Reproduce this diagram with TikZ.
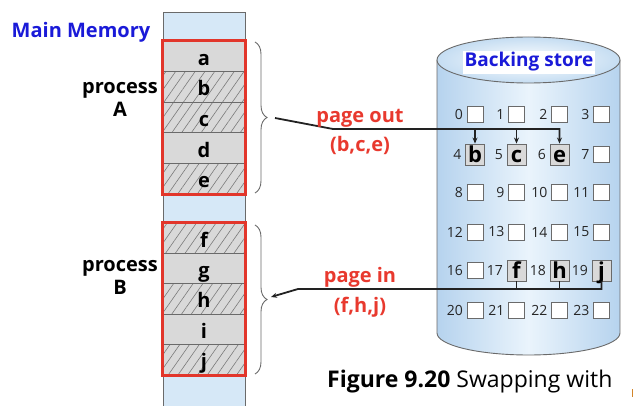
\documentclass[tikz,border=0pt]{standalone}
\usepackage{fontspec}
\setmainfont{Open Sans}
\usetikzlibrary{patterns.meta,decorations.pathreplacing,arrows.meta,calc}
\definecolor{memblue}{HTML}{D6E8F7}
\definecolor{cellgray}{HTML}{D9D9D9}
\definecolor{hatchgray}{HTML}{7A7A7A}
\definecolor{sepgray}{HTML}{6A6A6A}
\definecolor{boxred}{HTML}{E2362B}
\definecolor{txtred}{HTML}{E8392E}
\definecolor{txtblue}{HTML}{1A1AD8}
\definecolor{cylblue}{HTML}{B6D3EE}
\definecolor{cyllight}{HTML}{EAF4FC}
\definecolor{cyltop}{HTML}{C5DDF2}
\definecolor{linedark}{HTML}{222222}
\definecolor{sliver}{HTML}{D2852A}
\expandafter\def\csname lt4\endcsname{b}
\expandafter\def\csname lt5\endcsname{c}
\expandafter\def\csname lt6\endcsname{e}
\expandafter\def\csname lt17\endcsname{f}
\expandafter\def\csname lt18\endcsname{h}
\expandafter\def\csname lt19\endcsname{j}
\begin{document}
\begin{tikzpicture}[x=1pt,y=-1pt,
  cell/.style={draw=sepgray,line width=0.7pt,fill=cellgray,minimum width=82pt,minimum height=30.6pt,inner sep=0pt,
    text height=18pt,text depth=0pt,font=\bfseries\fontsize{20}{24}\selectfont},
  hatched/.style={fill=none,preaction={fill=cellgray},pattern={Lines[angle=55,distance=8pt,line width=0.6pt]},pattern color=hatchgray},
  redframe/.style={draw=boxred,line width=2.6pt},
  bracestyle/.style={decorate,decoration={brace,amplitude=12pt},draw=sepgray,line width=0.9pt},
  conn/.style={draw=linedark,line width=1.8pt},
  tip/.style={-{Stealth[length=6pt,width=5pt]}},
  emptybox/.style={draw=sepgray,line width=0.8pt,fill=white,minimum size=16pt,inner sep=0pt},
  letterbox/.style={draw=sepgray,line width=0.9pt,fill=cellgray,minimum width=19pt,minimum height=21pt,inner sep=0pt,
    text height=17pt,text depth=0pt,font=\bfseries\fontsize{22}{24}\selectfont},
  num/.style={inner sep=0pt,text=black!85,font=\fontsize{14}{16}\selectfont},
  bluetitle/.style={text=txtblue,font=\bfseries\fontsize{20}{24}\selectfont,inner sep=0pt},
  proc/.style={align=center,font=\bfseries\fontsize{20}{23}\selectfont,inner sep=0pt},
  redlabel/.style={text=txtred,font=\bfseries\fontsize{20}{24}\selectfont,inner sep=0pt}
]
\useasboundingbox (0,0) rectangle (633,406);

% main memory column
\fill[memblue] (163,12) rectangle (245,406);
\draw[sepgray,line width=0.8pt] (163,406) -- (163,12) -- (245,12) -- (245,406);
\node[bluetitle,anchor=base] (mmtitle) at (81,38) {Main Memory};

% process A
\node[cell] (a) at (204,56.3) {a};
\node[cell,hatched] (b) at (204,86.9) {b};
\node[cell,hatched] (c) at (204,117.5) {c};
\node[cell] (d) at (204,148.1) {d};
\node[cell,hatched] (e) at (204,178.7) {e};
\draw[redframe] (a.north west) rectangle (e.south east);
% process B
\node[cell,hatched] (f) at (204,238.2) {f};
\node[cell] (g) at (204,268.6) {g};
\node[cell,hatched] (h) at (204,299) {h};
\node[cell] (i) at (204,329.4) {i};
\node[cell,hatched] (j) at (204,359.8) {j};
\draw[redframe] (f.north west) rectangle (j.south east);

\node[proc,anchor=base] (procA) at (120,117) {process\\A};
\node[proc,anchor=base] (procB) at (120,295) {process\\B};

% braces
\draw[bracestyle] (255,42) -- (255,193);
\coordinate (tipA) at (267,117.5);
\draw[bracestyle] (255,225) -- (255,374);
\coordinate (tipB) at (267,299.5);

% cylinder
\path[left color=cylblue,right color=cylblue,middle color=cyllight]
  (437,60) -- (437,333) arc[start angle=180,end angle=360,x radius=91.5pt,y radius=22pt] -- (620,60) -- cycle;
\draw[sepgray,line width=0.9pt] (437,60) -- (437,333) arc[start angle=180,end angle=360,x radius=91.5pt,y radius=22pt] -- (620,60);
\draw[sepgray,line width=0.9pt,inner color=white,outer color=cyltop] (528.5,60) ellipse[x radius=91.5pt,y radius=23pt];
\node[text=txtblue,font=\bfseries\fontsize{19}{22}\selectfont,fill=white,inner sep=2pt,anchor=base] (bstitle) at (529,67) {Backing store};

% grid
\foreach \r/\yy in {0/114.5,1/154.5,2/192.5,3/232,4/270.5,5/310.5}{
  \foreach \c/\xx in {0/475,1/516.5,2/559.5,3/601.5}{
    \pgfmathtruncatemacro\n{4*\r+\c}
    \ifcsname lt\n\endcsname
      \node[letterbox] (g\n) at (\xx,\yy) {\csname lt\n\endcsname};
    \else
      \node[emptybox] (g\n) at (\xx,\yy) {};
    \fi
    \node[num,anchor=east] (n\n) at ([xshift=-3.5pt]g\n.west |- \xx,\yy) {\n};
  }
}

% page out
\coordinate (outStart) at (275,118);
\coordinate (outBend) at (333,129);
\draw[conn,tip] (outStart) -- (outBend) -| (g6.north);
\draw[conn,tip] (outBend -| g4.north) -- (g4.north);
\draw[conn,tip] (outBend -| g5.north) -- (g5.north);
\node[redlabel,anchor=base] (pout) at (360,123) {page out};
\node[redlabel,anchor=base] (pouts) at (360,152) {(b,c,e)};

% page in
\coordinate (inBend) at (298,289);
\coordinate (inEnd) at (271,297);
\draw[conn,tip] (g19.south) |- (inBend) -- (inEnd);
\draw[conn] (g17.south) -- (g17.south |- inBend);
\draw[conn] (g18.south) -- (g18.south |- inBend);
\node[redlabel,anchor=base] (pin) at (360,283) {page in};
\node[redlabel,anchor=base] (pins) at (360,313) {(f,h,j)};

% caption
\node[anchor=base west,inner sep=0pt,font=\fontsize{23}{27}\selectfont] (cap) at (327,388) {\textbf{Figure 9.20} Swapping with};
\fill[sliver] (631.5,389) rectangle (633,397);
\end{tikzpicture}
\end{document}
